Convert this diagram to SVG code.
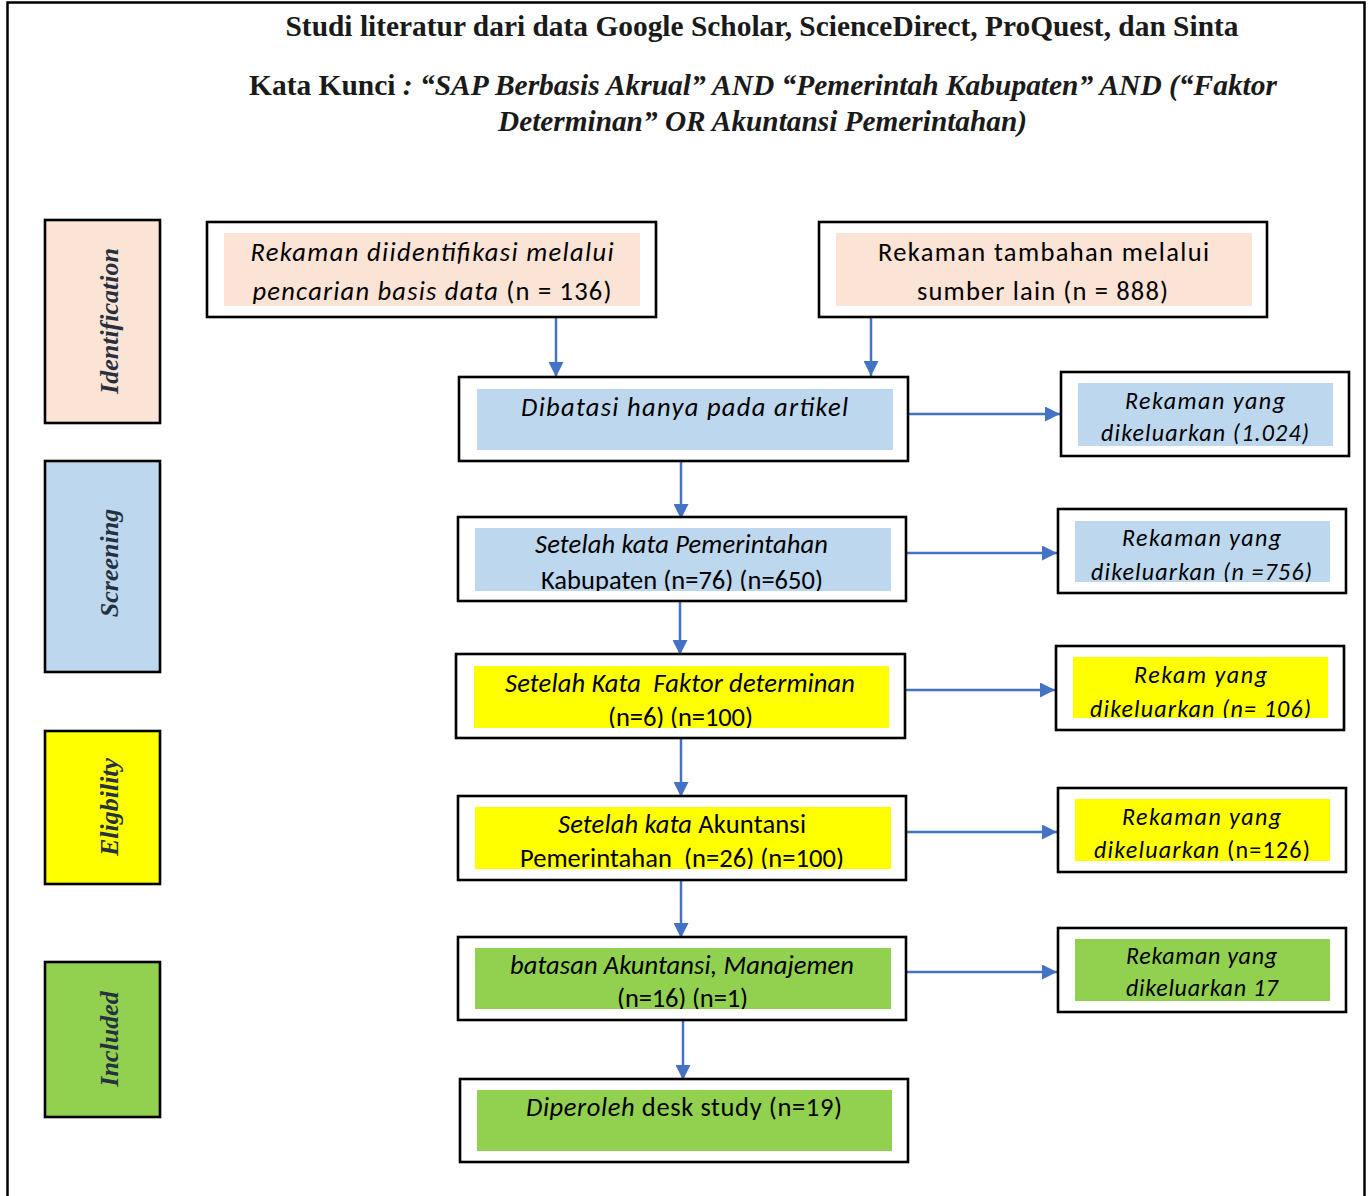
<svg xmlns="http://www.w3.org/2000/svg" width="1368" height="1196" viewBox="0 0 1368 1196">
<style>
.frame{fill:none;stroke:#000;stroke-width:2.5}
.box{fill:#fff;stroke:#000;stroke-width:2.6}
.lab{stroke:#000;stroke-width:2.6}
.peach{fill:#FBE3D6}.blue{fill:#BDD7EE}.yel{fill:#FFFF00}.grn{fill:#92D050}
.t{font-family:Carlito,Lato,"Open Sans",sans-serif;font-size:26.5px;fill:#000;text-anchor:middle}
.s{font-family:Carlito,Lato,"Open Sans",sans-serif;font-size:24px;fill:#000;text-anchor:middle}
.i{font-style:italic}
.ttl{font-family:"Liberation Serif","Times New Roman",serif;font-weight:bold;font-size:29px;fill:#1a1a1a;text-anchor:middle}
.vl{font-family:"Liberation Serif","Times New Roman",serif;font-weight:bold;font-style:italic;font-size:26px;fill:#26303e;text-anchor:middle}
.c{stroke:#4472C4;stroke-width:2.5;fill:none}
</style>
<defs>
<marker id="ah" viewBox="0 0 10 10" refX="10" refY="5" markerWidth="6" markerHeight="6" markerUnits="strokeWidth" orient="auto">
<path d="M0,0 L10,5 L0,10 z" fill="#4472C4"/>
</marker>
<clipPath id="cD"><rect x="475" y="528" width="416" height="63"/></clipPath>
<clipPath id="cR2"><rect x="1075" y="521" width="255" height="61"/></clipPath>
<clipPath id="cE"><rect x="474" y="666" width="415" height="62"/></clipPath>
<clipPath id="cR3"><rect x="1073" y="657" width="255" height="61"/></clipPath>
<clipPath id="cF"><rect x="475" y="807" width="416" height="62"/></clipPath>
<clipPath id="cR4"><rect x="1075" y="799" width="255" height="62"/></clipPath>
<clipPath id="cG"><rect x="475" y="948" width="416" height="61"/></clipPath>
</defs>
<rect width="1368" height="1196" fill="#fff"/>
<rect class="frame" x="7.5" y="2.5" width="1357" height="1200"/>

<g id="title">
<text class="ttl" x="762" y="36" textLength="953" lengthAdjust="spacingAndGlyphs">Studi literatur dari data Google Scholar, ScienceDirect, ProQuest, dan Sinta</text>
<text class="ttl" x="763" y="95" textLength="1028" lengthAdjust="spacingAndGlyphs">Kata Kunci <tspan font-style="italic">: “SAP Berbasis Akrual” AND “Pemerintah Kabupaten” AND (“Faktor</tspan></text>
<text class="ttl" x="762.5" y="131" textLength="529" lengthAdjust="spacingAndGlyphs" font-style="italic">Determinan” OR Akuntansi Pemerintahan)</text>
</g>

<g id="phase-identification">
<rect class="lab peach" x="45" y="220" width="115" height="203"/>
<text class="vl" transform="translate(118,321) rotate(-90)">Identification</text>
</g>
<g id="phase-screening">
<rect class="lab blue" x="45" y="461" width="115" height="211"/>
<text class="vl" transform="translate(118,563) rotate(-90)">Screening</text>
</g>
<g id="phase-eligibility">
<rect class="lab yel" x="45" y="731" width="115" height="153"/>
<text class="vl" transform="translate(118,807) rotate(-90)">Eligbility</text>
</g>
<g id="phase-included">
<rect class="lab grn" x="45" y="962" width="115" height="155"/>
<text class="vl" transform="translate(118,1039) rotate(-90)">Included</text>
</g>

<g id="connectors">
<line class="c" x1="556" y1="318" x2="556" y2="377" marker-end="url(#ah)"/>
<line class="c" x1="871" y1="314" x2="871" y2="376" marker-end="url(#ah)"/>
<line class="c" x1="906" y1="414" x2="1060" y2="414" marker-end="url(#ah)"/>
<line class="c" x1="681" y1="461" x2="681" y2="519" marker-end="url(#ah)"/>
<line class="c" x1="906" y1="553" x2="1057" y2="553" marker-end="url(#ah)"/>
<line class="c" x1="680" y1="597" x2="680" y2="655" marker-end="url(#ah)"/>
<line class="c" x1="904" y1="690" x2="1055" y2="690" marker-end="url(#ah)"/>
<line class="c" x1="681" y1="738" x2="681" y2="797" marker-end="url(#ah)"/>
<line class="c" x1="906" y1="832" x2="1057" y2="832" marker-end="url(#ah)"/>
<line class="c" x1="681" y1="880" x2="681" y2="938" marker-end="url(#ah)"/>
<line class="c" x1="906" y1="972" x2="1057" y2="972" marker-end="url(#ah)"/>
<line class="c" x1="683" y1="1020" x2="683" y2="1080" marker-end="url(#ah)"/>
</g>

<g id="box-a">
<rect class="box" x="207" y="222" width="449" height="95"/>
<rect class="peach" x="224" y="233" width="416" height="73"/>
<text class="t i" x="432" y="261" textLength="363">Rekaman diidentifikasi melalui</text>
<text class="t" x="432" y="300" textLength="359"><tspan font-style="italic">pencarian basis data</tspan> (n = 136)</text>
</g>
<g id="box-b">
<rect class="box" x="819" y="222" width="448" height="95"/>
<rect class="peach" x="836" y="233" width="416" height="73"/>
<text class="t" x="1043.5" y="261" textLength="331">Rekaman tambahan melalui</text>
<text class="t" x="1042.5" y="300" textLength="251">sumber lain (n = 888)</text>
</g>
<g id="box-c">
<rect class="box" x="459" y="377" width="449" height="84"/>
<rect class="blue" x="477" y="389" width="416" height="61"/>
<text class="t i" x="684.5" y="416" textLength="327">Dibatasi hanya pada artikel</text>
</g>
<g id="box-r1">
<rect class="box" x="1061" y="372" width="288" height="84"/>
<rect class="blue" x="1078" y="383" width="255" height="63"/>
<text class="s i" x="1205" y="409" textLength="160">Rekaman yang</text>
<text class="s i" x="1205" y="441" textLength="208">dikeluarkan (1.024)</text>
</g>
<g id="box-d">
<rect class="box" x="458" y="517" width="448" height="84"/>
<rect class="blue" x="475" y="528" width="416" height="63"/>
<text class="t i" x="681.5" y="553" textLength="293">Setelah kata Pemerintahan</text>
<text class="t" x="682" y="589" textLength="282" clip-path="url(#cD)">Kabupaten (n=76) (n=650)</text>
</g>
<g id="box-r2">
<rect class="box" x="1058" y="509" width="288" height="84"/>
<rect class="blue" x="1075" y="521" width="255" height="61"/>
<text class="s i" x="1201.5" y="546" textLength="159">Rekaman yang</text>
<text class="s i" x="1201.5" y="580" textLength="221" clip-path="url(#cR2)">dikeluarkan (n =756)</text>
</g>
<g id="box-e">
<rect class="box" x="456" y="654" width="449" height="84"/>
<rect class="yel" x="474" y="666" width="415" height="62"/>
<text class="t i" x="680" y="692" textLength="350" xml:space="preserve">Setelah Kata  Faktor determinan</text>
<text class="t" x="680.5" y="726" textLength="145" clip-path="url(#cE)">(n=6) (n=100)</text>
</g>
<g id="box-r3">
<rect class="box" x="1056" y="646" width="288" height="84"/>
<rect class="yel" x="1073" y="657" width="255" height="61"/>
<text class="s i" x="1200.5" y="683" textLength="133">Rekam yang</text>
<text class="s i" x="1200.5" y="717" textLength="221" clip-path="url(#cR3)">dikeluarkan (n= 106)</text>
</g>
<g id="box-f">
<rect class="box" x="458" y="796" width="448" height="84"/>
<rect class="yel" x="475" y="807" width="416" height="62"/>
<text class="t" x="682" y="833" textLength="248"><tspan font-style="italic">Setelah kata</tspan> Akuntansi</text>
<text class="t" x="682" y="867" textLength="324" clip-path="url(#cF)" xml:space="preserve">Pemerintahan  (n=26) (n=100)</text>
</g>
<g id="box-r4">
<rect class="box" x="1058" y="788" width="288" height="84"/>
<rect class="yel" x="1075" y="799" width="255" height="62"/>
<text class="s i" x="1201.5" y="825" textLength="159">Rekaman yang</text>
<text class="s" x="1202" y="858" textLength="216" clip-path="url(#cR4)"><tspan font-style="italic">dikeluarkan</tspan> (n=126)</text>
</g>
<g id="box-g">
<rect class="box" x="458" y="937" width="448" height="83"/>
<rect class="grn" x="475" y="948" width="416" height="61"/>
<text class="t i" x="682" y="974" textLength="344">batasan Akuntansi, Manajemen</text>
<text class="t" x="682.5" y="1007" textLength="131" clip-path="url(#cG)">(n=16) (n=1)</text>
</g>
<g id="box-r5">
<rect class="box" x="1058" y="928" width="288" height="84"/>
<rect class="grn" x="1075" y="939" width="255" height="62"/>
<text class="s i" x="1201.5" y="964" textLength="151">Rekaman yang</text>
<text class="s i" x="1202" y="996" textLength="152">dikeluarkan 17</text>
</g>
<g id="box-h">
<rect class="box" x="460" y="1079" width="448" height="83"/>
<rect class="grn" x="477" y="1090" width="415" height="61"/>
<text class="t" x="684" y="1116" textLength="316"><tspan font-style="italic">Diperoleh</tspan> desk study (n=19)</text>
</g>
</svg>
